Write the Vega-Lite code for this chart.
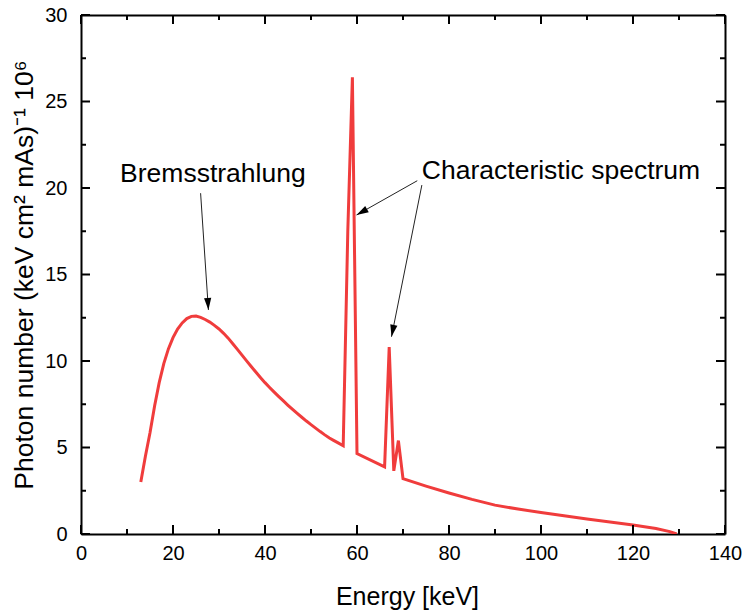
{
  "$schema": "https://vega.github.io/schema/vega-lite/v6.json",
  "width": 644,
  "height": 519,
  "autosize": {"type": "none"},
  "padding": {"left": 81, "top": 15, "right": 19, "bottom": 82},
  "background": "white",
  "config": {
    "view": {"stroke": null},
    "font": "Liberation Sans",
    "axis": {"grid": false, "labelFont": "Liberation Sans", "titleFont": "Liberation Sans", "labelColor": "black", "titleColor": "black", "titleFontWeight": "normal", "domainColor": "black", "domainWidth": 2}
  },
  "datasets": {
    "spectrum": [
      {"energy": 13, "photons": 3.0},
      {"energy": 14, "photons": 4.5},
      {"energy": 15, "photons": 5.85},
      {"energy": 16, "photons": 7.4},
      {"energy": 17, "photons": 8.75},
      {"energy": 18, "photons": 9.85},
      {"energy": 19, "photons": 10.7},
      {"energy": 20, "photons": 11.35},
      {"energy": 21, "photons": 11.85},
      {"energy": 22, "photons": 12.2},
      {"energy": 23, "photons": 12.45},
      {"energy": 24, "photons": 12.58},
      {"energy": 25, "photons": 12.6},
      {"energy": 26, "photons": 12.52},
      {"energy": 27, "photons": 12.4},
      {"energy": 28, "photons": 12.25},
      {"energy": 29, "photons": 12.06},
      {"energy": 30, "photons": 11.85},
      {"energy": 31, "photons": 11.6},
      {"energy": 32, "photons": 11.32},
      {"energy": 33, "photons": 11.0},
      {"energy": 34, "photons": 10.67},
      {"energy": 35, "photons": 10.34},
      {"energy": 36, "photons": 10.01},
      {"energy": 37, "photons": 9.68},
      {"energy": 38, "photons": 9.36},
      {"energy": 39, "photons": 9.05},
      {"energy": 40, "photons": 8.75},
      {"energy": 41, "photons": 8.47},
      {"energy": 42, "photons": 8.2},
      {"energy": 43, "photons": 7.94},
      {"energy": 44, "photons": 7.69},
      {"energy": 45, "photons": 7.44},
      {"energy": 46, "photons": 7.2},
      {"energy": 47, "photons": 6.97},
      {"energy": 48, "photons": 6.75},
      {"energy": 49, "photons": 6.53},
      {"energy": 50, "photons": 6.32},
      {"energy": 51, "photons": 6.12},
      {"energy": 52, "photons": 5.92},
      {"energy": 53, "photons": 5.73},
      {"energy": 54, "photons": 5.55},
      {"energy": 55, "photons": 5.4},
      {"energy": 56, "photons": 5.25},
      {"energy": 57, "photons": 5.1},
      {"energy": 58, "photons": 17.5},
      {"energy": 59, "photons": 26.4},
      {"energy": 60, "photons": 4.65},
      {"energy": 66, "photons": 3.88},
      {"energy": 67, "photons": 10.8},
      {"energy": 68, "photons": 3.65},
      {"energy": 69, "photons": 5.4},
      {"energy": 70, "photons": 3.2},
      {"energy": 75, "photons": 2.77},
      {"energy": 80, "photons": 2.37},
      {"energy": 85, "photons": 2.0},
      {"energy": 90, "photons": 1.67},
      {"energy": 95, "photons": 1.44},
      {"energy": 100, "photons": 1.24},
      {"energy": 105, "photons": 1.05},
      {"energy": 110, "photons": 0.87},
      {"energy": 115, "photons": 0.7},
      {"energy": 120, "photons": 0.52},
      {"energy": 125, "photons": 0.32},
      {"energy": 128, "photons": 0.14},
      {"energy": 129.5, "photons": 0.0}
    ],
    "xMajor": [{"v": 0}, {"v": 20}, {"v": 40}, {"v": 60}, {"v": 80}, {"v": 100}, {"v": 120}, {"v": 140}],
    "xMinor": [{"v": 10}, {"v": 30}, {"v": 50}, {"v": 70}, {"v": 90}, {"v": 110}, {"v": 130}],
    "yMajor": [{"v": 0}, {"v": 5}, {"v": 10}, {"v": 15}, {"v": 20}, {"v": 25}, {"v": 30}],
    "yMinor": [{"v": 2.5}, {"v": 7.5}, {"v": 12.5}, {"v": 17.5}, {"v": 22.5}, {"v": 27.5}],
    "arrows": [
      {"x": 26.0, "y": 19.7, "x2": 27.7, "y2": 12.95},
      {"x": 73.1, "y": 20.42, "x2": 59.9, "y2": 18.44},
      {"x": 74.1, "y": 20.17, "x2": 67.5, "y2": 11.4}
    ],
    "labels": [
      {"text": "Bremsstrahlung", "x": 8.5, "y": 20.35},
      {"text": "Characteristic spectrum", "x": 74.1, "y": 20.5}
    ]
  },
  "resolve": {"axis": {"x": "independent", "y": "independent"}},
  "layer": [
    {
      "data": {"name": "spectrum"},
      "mark": {"type": "line", "color": "#f03c3c", "strokeWidth": 3, "strokeJoin": "miter", "clip": true},
      "encoding": {
        "x": {"field": "energy", "type": "quantitative", "scale": {"domain": [0, 140], "nice": false},
          "axis": {"orient": "bottom", "values": [0, 20, 40, 60, 80, 100, 120, 140], "ticks": false, "labelPadding": 9.5, "labelFontSize": 20, "labelFlush": false, "labelOverlap": false,
            "title": "Energy [keV]", "titleFontSize": 25, "titleBaseline": "alphabetic", "titleX": 326, "titleY": 70}},
        "y": {"field": "photons", "type": "quantitative", "scale": {"domain": [0, 30], "nice": false},
          "axis": {"orient": "left", "values": [0, 5, 10, 15, 20, 25, 30], "ticks": false, "labelPadding": 14, "labelFontSize": 20, "labelFlush": false, "labelOverlap": false,
            "title": "Photon number (keV cm² mAs)⁻¹ 10⁶", "titleFontSize": 26.5, "titleBaseline": "alphabetic", "titleAngle": 270, "titleX": -49, "titleY": 259.5}}
      }
    },
    {
      "data": {"name": "spectrum"},
      "mark": {"type": "line", "opacity": 0},
      "encoding": {
        "x": {"field": "energy", "type": "quantitative", "scale": {"domain": [0, 140], "nice": false},
          "axis": {"orient": "top", "labels": false, "ticks": false, "title": null}},
        "y": {"field": "photons", "type": "quantitative", "scale": {"domain": [0, 30], "nice": false},
          "axis": {"orient": "right", "labels": false, "ticks": false, "title": null}}
      }
    },
    {
      "data": {"name": "xMajor"},
      "mark": {"type": "rule", "color": "black", "strokeWidth": 2},
      "encoding": {
        "x": {"field": "v", "type": "quantitative", "scale": {"domain": [0, 140], "nice": false}, "axis": null},
        "y": {"datum": 0, "type": "quantitative", "scale": {"domain": [0, 30], "nice": false}, "axis": null},
        "y2": {"datum": 0.52}
      }
    },
    {
      "data": {"name": "xMinor"},
      "mark": {"type": "rule", "color": "black", "strokeWidth": 2},
      "encoding": {
        "x": {"field": "v", "type": "quantitative", "scale": {"domain": [0, 140], "nice": false}, "axis": null},
        "y": {"datum": 0, "type": "quantitative", "scale": {"domain": [0, 30], "nice": false}, "axis": null},
        "y2": {"datum": 0.29}
      }
    },
    {
      "data": {"name": "xMajor"},
      "mark": {"type": "rule", "color": "black", "strokeWidth": 2},
      "encoding": {
        "x": {"field": "v", "type": "quantitative", "scale": {"domain": [0, 140], "nice": false}, "axis": null},
        "y": {"datum": 30, "type": "quantitative", "scale": {"domain": [0, 30], "nice": false}, "axis": null},
        "y2": {"datum": 29.48}
      }
    },
    {
      "data": {"name": "xMinor"},
      "mark": {"type": "rule", "color": "black", "strokeWidth": 2},
      "encoding": {
        "x": {"field": "v", "type": "quantitative", "scale": {"domain": [0, 140], "nice": false}, "axis": null},
        "y": {"datum": 30, "type": "quantitative", "scale": {"domain": [0, 30], "nice": false}, "axis": null},
        "y2": {"datum": 29.71}
      }
    },
    {
      "data": {"name": "yMajor"},
      "mark": {"type": "rule", "color": "black", "strokeWidth": 2},
      "encoding": {
        "y": {"field": "v", "type": "quantitative", "scale": {"domain": [0, 30], "nice": false}, "axis": null},
        "x": {"datum": 0, "type": "quantitative", "scale": {"domain": [0, 140], "nice": false}, "axis": null},
        "x2": {"datum": 1.96}
      }
    },
    {
      "data": {"name": "yMinor"},
      "mark": {"type": "rule", "color": "black", "strokeWidth": 2},
      "encoding": {
        "y": {"field": "v", "type": "quantitative", "scale": {"domain": [0, 30], "nice": false}, "axis": null},
        "x": {"datum": 0, "type": "quantitative", "scale": {"domain": [0, 140], "nice": false}, "axis": null},
        "x2": {"datum": 1.09}
      }
    },
    {
      "data": {"name": "yMajor"},
      "mark": {"type": "rule", "color": "black", "strokeWidth": 2},
      "encoding": {
        "y": {"field": "v", "type": "quantitative", "scale": {"domain": [0, 30], "nice": false}, "axis": null},
        "x": {"datum": 140, "type": "quantitative", "scale": {"domain": [0, 140], "nice": false}, "axis": null},
        "x2": {"datum": 138.04}
      }
    },
    {
      "data": {"name": "yMinor"},
      "mark": {"type": "rule", "color": "black", "strokeWidth": 2},
      "encoding": {
        "y": {"field": "v", "type": "quantitative", "scale": {"domain": [0, 30], "nice": false}, "axis": null},
        "x": {"datum": 140, "type": "quantitative", "scale": {"domain": [0, 140], "nice": false}, "axis": null},
        "x2": {"datum": 138.91}
      }
    },
    {
      "data": {"name": "arrows"},
      "mark": {"type": "rule", "color": "#222222", "strokeWidth": 1},
      "encoding": {
        "x": {"field": "x", "type": "quantitative", "scale": {"domain": [0, 140], "nice": false}, "axis": null},
        "y": {"field": "y", "type": "quantitative", "scale": {"domain": [0, 30], "nice": false}, "axis": null},
        "x2": {"field": "x2"},
        "y2": {"field": "y2"}
      }
    },
    {
      "data": {"values": [{"x": 27.7, "y": 12.95}]},
      "mark": {"type": "point", "shape": "M0,0L-1,-0.3L-1,0.3Z", "size": 576, "filled": true, "color": "black", "opacity": 1, "angle": 86.3},
      "encoding": {
        "x": {"field": "x", "type": "quantitative", "scale": {"domain": [0, 140], "nice": false}, "axis": null},
        "y": {"field": "y", "type": "quantitative", "scale": {"domain": [0, 30], "nice": false}, "axis": null}
      }
    },
    {
      "data": {"values": [{"x": 59.9, "y": 18.44}]},
      "mark": {"type": "point", "shape": "M0,0L-1,-0.3L-1,0.3Z", "size": 576, "filled": true, "color": "black", "opacity": 1, "angle": 150.5},
      "encoding": {
        "x": {"field": "x", "type": "quantitative", "scale": {"domain": [0, 140], "nice": false}, "axis": null},
        "y": {"field": "y", "type": "quantitative", "scale": {"domain": [0, 30], "nice": false}, "axis": null}
      }
    },
    {
      "data": {"values": [{"x": 67.5, "y": 11.4}]},
      "mark": {"type": "point", "shape": "M0,0L-1,-0.3L-1,0.3Z", "size": 576, "filled": true, "color": "black", "opacity": 1, "angle": 101.2},
      "encoding": {
        "x": {"field": "x", "type": "quantitative", "scale": {"domain": [0, 140], "nice": false}, "axis": null},
        "y": {"field": "y", "type": "quantitative", "scale": {"domain": [0, 30], "nice": false}, "axis": null}
      }
    },
    {
      "data": {"name": "labels"},
      "mark": {"type": "text", "align": "left", "baseline": "alphabetic", "fontSize": 26.5, "font": "Liberation Sans", "color": "black"},
      "encoding": {
        "x": {"field": "x", "type": "quantitative", "scale": {"domain": [0, 140], "nice": false}, "axis": null},
        "y": {"field": "y", "type": "quantitative", "scale": {"domain": [0, 30], "nice": false}, "axis": null},
        "text": {"field": "text"}
      }
    }
  ]
}
